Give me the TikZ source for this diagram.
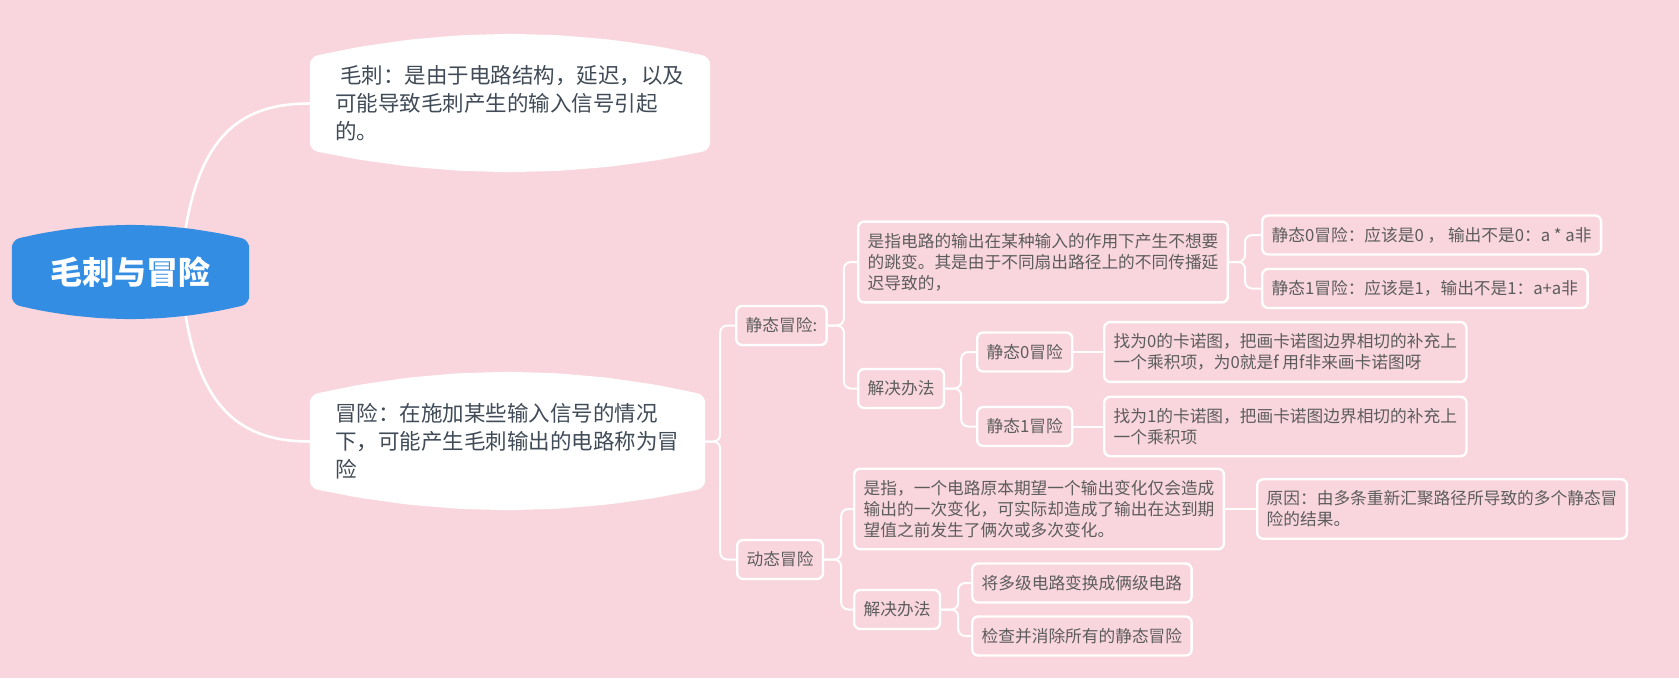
\documentclass[tikz,border=0pt]{standalone}
\usepackage{fontspec}
\setmainfont{Noto Sans CJK SC}
\usetikzlibrary{calc}
\definecolor{pinkbg}{HTML}{F9D6DE}
\definecolor{hubblue}{HTML}{338DE3}
\definecolor{topicink}{HTML}{404B57}
\definecolor{leafink}{HTML}{5C5C5C}
\pgfdeclarelayer{back}
\pgfsetlayers{back,main}
\begin{document}
\begin{tikzpicture}[x=1pt,y=-1pt,line cap=round,line join=round,
  branch/.style={white,line width=2.6pt},
  twig/.style={white,line width=2pt,rounded corners=7pt},
  topic/.style={inner xsep=25pt,inner ysep=0pt,text width=#1,minimum height=93pt,
    align=left,text=topicink,font=\fontsize{21.5}{28}\selectfont},
  leaf/.style={anchor=west,draw=white,line width=2.4pt,fill=pinkbg,
    rounded corners=6pt,inner xsep=9.5pt,inner ysep=11.5pt,align=left,
    text=leafink,font=\fontsize{16.7}{21}\selectfont},
  oneline/.style={minimum height=39pt}]
  % Topic outline: flat sides, top and bottom bowed out in a shallow arc.
  \def\tshape#1#2#3#4{%
    \fill[#4,rounded corners=8pt] (#1.west) -- (#1.north west)
      -- ($(#1.north west)!.125!(#1.north east)+(0,-.4375*#2)$)
      -- ($(#1.north west)!.25!(#1.north east)+(0,-.75*#2)$)
      -- ($(#1.north west)!.375!(#1.north east)+(0,-.9375*#2)$)
      -- ($(#1.north)+(0,-#2)$)
      -- ($(#1.north west)!.625!(#1.north east)+(0,-.9375*#2)$)
      -- ($(#1.north west)!.75!(#1.north east)+(0,-.75*#2)$)
      -- ($(#1.north west)!.875!(#1.north east)+(0,-.4375*#2)$)
      -- (#1.north east) -- (#1.south east)
      -- ($(#1.south west)!.875!(#1.south east)+(0,.4375*#3)$)
      -- ($(#1.south west)!.75!(#1.south east)+(0,.75*#3)$)
      -- ($(#1.south west)!.625!(#1.south east)+(0,.9375*#3)$)
      -- ($(#1.south)+(0,#3)$)
      -- ($(#1.south west)!.375!(#1.south east)+(0,.9375*#3)$)
      -- ($(#1.south west)!.25!(#1.south east)+(0,.75*#3)$)
      -- ($(#1.south west)!.125!(#1.south east)+(0,.4375*#3)$)
      -- (#1.south west) -- cycle;}
  \def\tw#1#2#3{\draw[twig] (#1.east) -- ++(#3,0) |- (#2.west);}
  \useasboundingbox (0,0) rectangle (1679,678);
  \node[text=white,font=\fontsize{32}{32}\selectfont\bfseries,
    minimum width=237pt,minimum height=64pt,inner sep=0pt] (hub) at (130.5,272) {毛刺与冒险};
  \node[topic=350pt] (t1) at (510,103.5)
    {\hspace*{5pt}毛刺：是由于电路结构，延迟，以及\\可能导致毛刺产生的输入信号引起\\的。};
  \node[topic=345pt] (t2) at (507.5,441.5)
    {冒险：在施加某些输入信号的情况\\下，可能产生毛刺输出的电路称为冒\\险};
  \begin{pgfonlayer}{back}
    \fill[pinkbg] (0,0) rectangle (1679,678);
    \draw[branch] ([xshift=50pt]hub.center) .. controls +(10,-131) and +(-75,0) .. (t1.west);
    \draw[branch] ([xshift=50pt]hub.center) .. controls +(10,131) and +(-75,0) .. (t2.west);
    \tshape{hub}{15}{15}{hubblue}
    \tshape{t1}{23}{22}{white}
    \tshape{t2}{23}{22}{white}
  \end{pgfonlayer}
  \node[leaf,oneline] (sA) at (735,325.5) {静态冒险:};
  \node[leaf] (sA1) at (857,262)
    {是指电路的输出在某种输入的作用下产生不想要\\的跳变。其是由于不同扇出路径上的不同传播延\\迟导致的，};
  \node[leaf,oneline] (sA1a) at (1261,235) {静态0冒险：应该是0 ， 输出不是0：a * a非};
  \node[leaf,oneline] (sA1b) at (1261,288.5) {静态1冒险：应该是1，输出不是1：a+a非};
  \node[leaf,oneline] (sA2) at (857,388.5) {解决办法};
  \node[leaf,oneline] (sA2a) at (976,352) {静态0冒险};
  \node[leaf,oneline] (sA2b) at (976,426.5) {静态1冒险};
  \node[leaf] (sA2a1) at (1103,352)
    {找为0的卡诺图，把画卡诺图边界相切的补充上\\一个乘积项，为0就是f 用f非来画卡诺图呀};
  \node[leaf] (sA2b1) at (1103,426.5)
    {找为1的卡诺图，把画卡诺图边界相切的补充上\\一个乘积项};
  \node[leaf,oneline] (sB) at (736,559.5) {动态冒险};
  \node[leaf] (sB1) at (853,509)
    {是指，一个电路原本期望一个输出变化仅会造成\\输出的一次变化，可实际却造成了输出在达到期\\望值之前发生了俩次或多次变化。};
  \node[leaf] (sB1a) at (1256,509)
    {原因：由多条重新汇聚路径所导致的多个静态冒\\险的结果。};
  \node[leaf,oneline] (sB2) at (853,609.5) {解决办法};
  \node[leaf,oneline] (sB2a) at (971,583) {将多级电路变换成俩级电路};
  \node[leaf,oneline] (sB2b) at (971,636) {检查并消除所有的静态冒险};
  \tw{t2}{sA}{15}
  \tw{t2}{sB}{15}
  \tw{sA}{sA1}{16}
  \tw{sA}{sA2}{16}
  \tw{sA1}{sA1a}{16}
  \tw{sA1}{sA1b}{16}
  \tw{sA2}{sA2a}{16}
  \tw{sA2}{sA2b}{16}
  \draw[twig] (sA2a) -- (sA2a1);
  \draw[twig] (sA2b) -- (sA2b1);
  \tw{sB}{sB1}{17}
  \tw{sB}{sB2}{17}
  \draw[twig] (sB1) -- (sB1a);
  \tw{sB2}{sB2a}{17}
  \tw{sB2}{sB2b}{17}
\end{tikzpicture}
\end{document}
